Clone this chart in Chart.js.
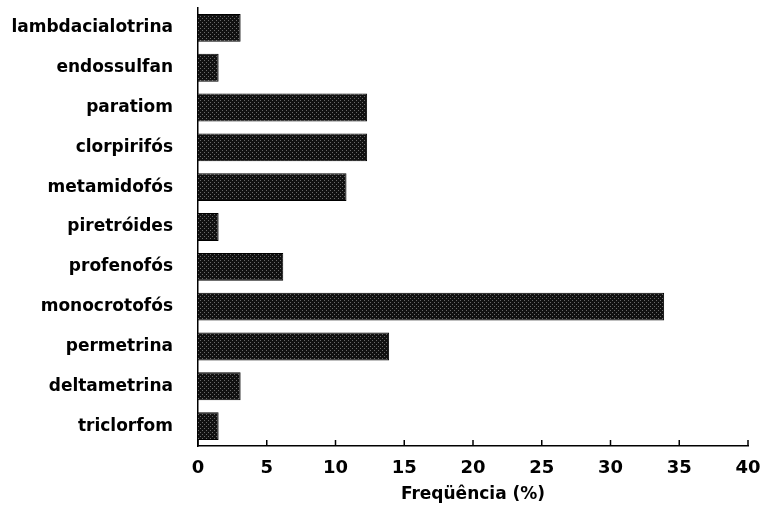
<!DOCTYPE html>
<html>
<head>
<meta charset="utf-8">
<script src="https://cdn.jsdelivr.net/npm/chart.js@4.4.1/dist/chart.umd.min.js"></script>
<style>
  html, body { margin: 0; padding: 0; background: #fff; }
  #wrap { width: 766px; height: 506px; position: relative; }
</style>
</head>
<body>
<div id="wrap"><canvas id="chart_frequencia"></canvas></div>
<script>
// pesticides, top to bottom
var categories = [
    'lambdacialotrina', 'endossulfan', 'paratiom', 'clorpirifós', 'metamidofós',
    'piretróides', 'profenofós', 'monocrotofós', 'permetrina', 'deltametrina', 'triclorfom'
];
// frequency (%)
var frequencia = [3.1, 1.5, 12.3, 12.3, 10.8, 1.5, 6.2, 33.9, 13.9, 3.1, 1.5];
var xTicks = [0, 5, 10, 15, 20, 25, 30, 35, 40];
var xTitle = 'Freqüência (%)';

// stippled dark fill like the printed figure
function stipple() {
    var c = document.createElement('canvas');
    c.width = 4; c.height = 4;
    var g = c.getContext('2d');
    g.fillStyle = '#111';
    g.fillRect(0, 0, 4, 4);
    g.fillStyle = '#6a6a6a';
    g.fillRect(0, 0, 1, 1);
    g.fillRect(2, 2, 1, 1);
    return g.createPattern(c, 'repeat');
}

var chart_frequencia = new Chart(document.getElementById('chart_frequencia'), {
    type: 'bar',
    data: {
        labels: categories,
        datasets: [{
            label: xTitle,
            data: frequencia,
            backgroundColor: stipple(),
            borderColor: '#000',
            borderWidth: 1,
            categoryPercentage: 0.7,
            barPercentage: 1.0
        }]
    },
    options: {
        indexAxis: 'y',
        animation: false,
        responsive: true,
        maintainAspectRatio: false,
        layout: { padding: { left: 0, right: 18, top: 8, bottom: 0 } },
        plugins: {
            legend: { display: false },
            tooltip: { enabled: false }
        },
        scales: {
            x: {
                min: 0,
                max: 40,
                afterBuildTicks: function (scale) {
                    scale.ticks = xTicks.map(function (v) { return { value: v }; });
                },
                afterFit: function (scale) {
                    scale.height = 60;
                    scale.paddingLeft = 0;
                    scale.paddingRight = 0;
                },
                grid: { display: false, drawTicks: false },
                border: { display: true, color: '#000', width: 1.5 },
                ticks: { color: '#000', font: { family: 'DejaVu Sans', weight: 'bold', size: 18 }, padding: 12 },
                title: {
                    display: true,
                    text: xTitle,
                    color: '#000',
                    font: { family: 'DejaVu Sans', weight: 'bold', size: 17 },
                    padding: { top: 0, bottom: 1 }
                }
            },
            y: {
                afterFit: function (scale) {
                    scale.width = 198;
                    scale.paddingTop = 0;
                    scale.paddingBottom = 0;
                },
                grid: { display: false, drawTicks: false },
                border: { display: true, color: '#000', width: 1.5 },
                ticks: { color: '#000', font: { family: 'DejaVu Sans', weight: 'bold', size: 17 }, padding: 25 }
            }
        }
    },
    plugins: [{
        id: 'inwardTicks',
        afterDraw: function (chart) {
            var ctx = chart.ctx, sx = chart.scales.x, bottom = chart.chartArea.bottom;
            ctx.save();
            ctx.strokeStyle = '#000';
            ctx.lineWidth = 1.5;
            sx.ticks.forEach(function (t, i) {
                var px = sx.getPixelForTick(i);
                ctx.beginPath();
                ctx.moveTo(px, bottom);
                ctx.lineTo(px, bottom - 6);
                ctx.stroke();
            });
            ctx.restore();
        }
    }]
});
</script>
</body>
</html>
